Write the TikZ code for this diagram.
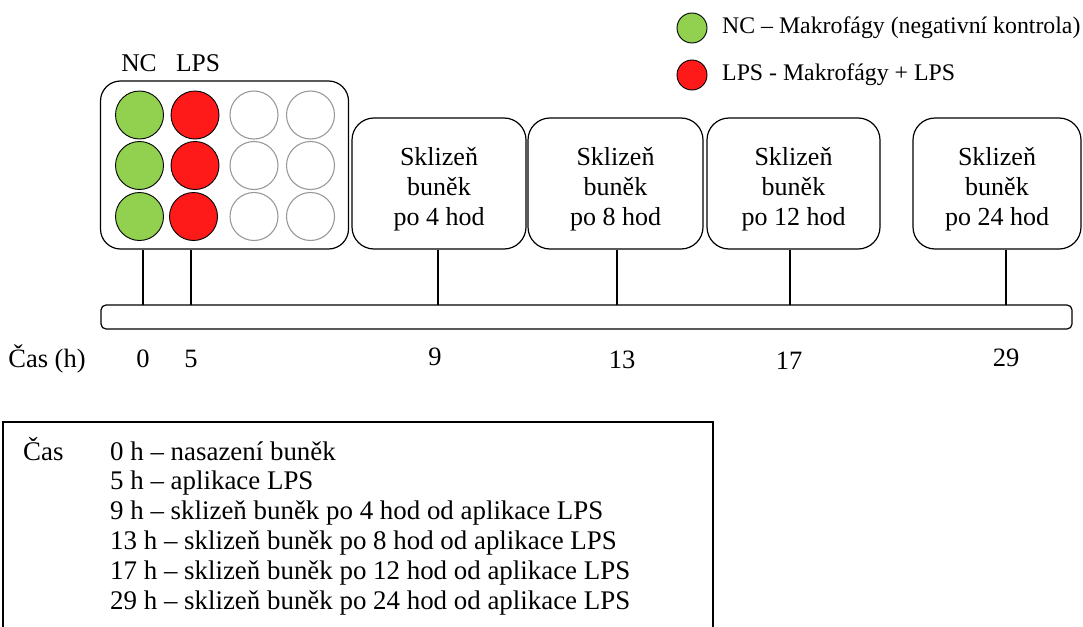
\documentclass[tikz,border=0pt]{standalone}
\usepackage{fontspec}
\setmainfont{Liberation Serif}

\definecolor{ncgreen}{RGB}{146,208,80}
\definecolor{lpsred}{RGB}{255,26,26}

\begin{document}
\begin{tikzpicture}[x=1pt, y=-1pt,
    well/.style={circle, draw=black, line width=0.9pt, minimum size=48pt, inner sep=0pt},
    emptywell/.style={circle, draw=black!40, line width=1.1pt, minimum size=48pt, inner sep=0pt},
    harvest/.style={rectangle, draw, line width=1.2pt, rounded corners=22pt, minimum height=131pt},
    harvesttext/.style={align=center, inner sep=0pt, font=\fontsize{26}{30}\selectfont},
    tick/.style={line width=1.2pt},
    timelabel/.style={anchor=base, inner sep=0pt, font=\fontsize{26.5}{30}\selectfont},
    rowtext/.style={anchor=base west, inner sep=0pt, font=\fontsize{26.9}{30}\selectfont}]
    \useasboundingbox (0, 0) rectangle (1083, 626);

    % 凡例
    \node[well, minimum size=30pt, fill=ncgreen] (leg_nc) at (692, 28) {};
    \node[well, minimum size=30pt, fill=lpsred] (leg_lps) at (692, 75) {};
    \node[anchor=west, inner sep=0pt, font=\fontsize{23.8}{28}\selectfont] (leg_nc_text) at (722, 28) {NC – Makrofágy (negativní kontrola)};
    \node[anchor=west, inner sep=0pt, font=\fontsize{23.8}{28}\selectfont] (leg_lps_text) at (722, 75) {LPS - Makrofágy + LPS};

    % プレート
    \node[draw, line width=1.2pt, rounded corners=20pt, minimum width=248pt, minimum height=168pt] (plate) at (224.5, 165) {};
    \node[font=\fontsize{25.5}{30}\selectfont] (nc_label) at (139, 63) {NC};
    \node[font=\fontsize{25.5}{30}\selectfont] (lps_label) at (198, 63) {LPS};

    \node[well, fill=ncgreen] (nc1) at (139.5, 115) {};
    \node[well, fill=ncgreen] (nc2) at (139.5, 165.5) {};
    \node[well, fill=ncgreen] (nc3) at (139.5, 216.5) {};
    \node[well, fill=lpsred] (lps1) at (195, 115) {};
    \node[well, fill=lpsred] (lps2) at (195, 165.5) {};
    \node[well, fill=lpsred] (lps3) at (193.5, 216.5) {};
    \node[emptywell] (e1) at (254, 115) {};
    \node[emptywell] (e2) at (254, 165.5) {};
    \node[emptywell] (e3) at (254, 216.5) {};
    \node[emptywell] (e4) at (310.5, 115) {};
    \node[emptywell] (e5) at (310.5, 165.5) {};
    \node[emptywell] (e6) at (310.5, 216.5) {};

    % 回収
    \node[harvest, minimum width=174pt] (h4) at (439, 183.5) {};
    \node[harvest, minimum width=175pt] (h8) at (615.5, 183.5) {};
    \node[harvest, minimum width=173pt] (h12) at (793.5, 183.5) {};
    \node[harvest, minimum width=168pt] (h24) at (997, 183.5) {};

    \node[harvesttext] (h4_text) at ([yshift=-6pt]h4.center) {Sklizeň\\buněk\\po 4 hod};
    \node[harvesttext] (h8_text) at ([yshift=-6pt]h8.center) {Sklizeň\\buněk\\po 8 hod};
    \node[harvesttext] (h12_text) at ([yshift=-6pt]h12.center) {Sklizeň\\buněk\\po 12 hod};
    \node[harvesttext] (h24_text) at ([yshift=-6pt]h24.center) {Sklizeň\\buněk\\po 24 hod};

    % 時間軸
    \node[draw, line width=1.2pt, rounded corners=5pt, minimum width=971pt, minimum height=24pt] (bar) at (586.5, 317) {};

    \coordinate (t0) at (143, 305);
    \coordinate (t5) at (191, 305);
    \coordinate (t9) at (438, 305);
    \coordinate (t13) at (617, 305);
    \coordinate (t17) at (790, 305);
    \coordinate (t29) at (1006, 305);

    \draw[tick] (t0) -- (t0 |- plate.south);
    \draw[tick] (t5) -- (t5 |- plate.south);
    \draw[tick] (t9) -- (t9 |- h4.south);
    \draw[tick] (t13) -- (t13 |- h8.south);
    \draw[tick] (t17) -- (t17 |- h12.south);
    \draw[tick] (t29) -- (t29 |- h24.south);

    \node[timelabel] (cas_label) at (47, 367) {Čas (h)};
    \node[timelabel] (l0) at (143, 367) {0};
    \node[timelabel] (l5) at (191, 367) {5};
    \node[timelabel] (l9) at (435, 365) {9};
    \node[timelabel] (l13) at (622, 368) {13};
    \node[timelabel] (l17) at (789, 369) {17};
    \node[timelabel] (l29) at (1006, 366) {29};

    % 説明
    \draw[line width=1.2pt] (3, 640) -- (3, 422) -- (713, 422) -- (713, 640);
    \node[rowtext] (cas_row) at (23, 460) {Čas};
    \node[rowtext] (row0) at (110, 460) {0 h – nasazení buněk};
    \node[rowtext] (row5) at (110, 489.8) {5 h – aplikace LPS};
    \node[rowtext] (row9) at (110, 519.6) {9 h – sklizeň buněk po 4 hod od aplikace LPS};
    \node[rowtext] (row13) at (110, 549.4) {13 h – sklizeň buněk po 8 hod od aplikace LPS};
    \node[rowtext] (row17) at (110, 579.2) {17 h – sklizeň buněk po 12 hod od aplikace LPS};
    \node[rowtext] (row29) at (110, 609) {29 h – sklizeň buněk po 24 hod od aplikace LPS};

  \end{tikzpicture}
\end{document}
